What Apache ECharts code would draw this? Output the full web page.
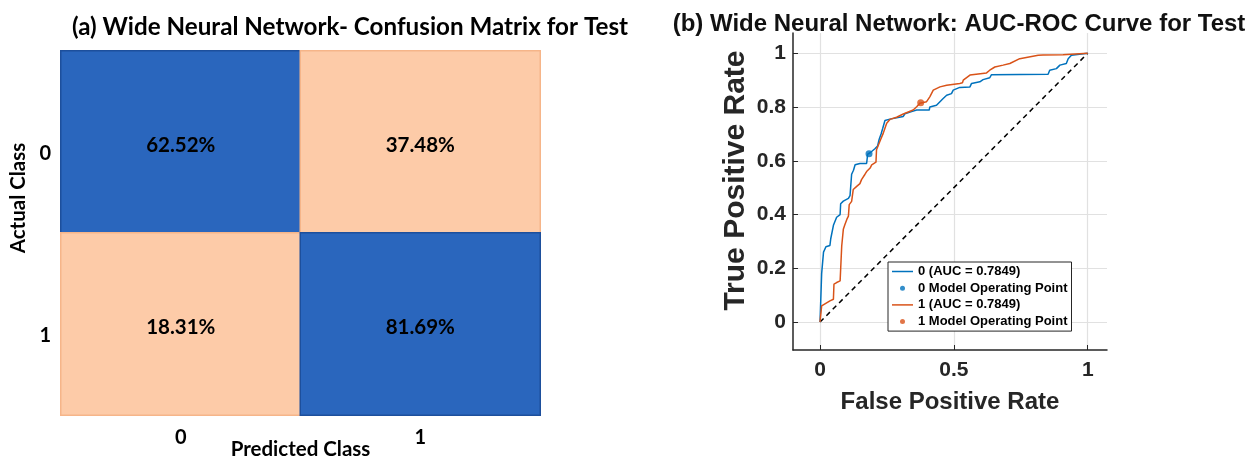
<!DOCTYPE html>
<html><head><meta charset="utf-8">
<script src="https://cdn.jsdelivr.net/npm/echarts@6/dist/echarts.min.js"></script>
<style>html,body{margin:0;padding:0;background:#fff}#c{width:1248px;height:459px}</style>
</head><body><div id="c"></div>
<script>
// ---------- Confusion matrix data ----------
const cmPredicted = ['0', '1'];
const cmActual = ['0', '1'];
const cmActual0 = [62.52, 37.48];
const cmActual1 = [18.31, 81.69];

// ---------- ROC data ----------
const rocXTicks = [0, 0.5, 1];
const rocYTicks = [0, 0.2, 0.4, 0.6, 0.8, 1];
const rocClass0 = [[0,0],[0.003,0.005],[0.006,0.18],[0.012,0.18],[0.013,0.26],[0.022,0.28],[0.037,0.285],[0.04,0.31],[0.05,0.36],[0.062,0.39],[0.075,0.40],[0.077,0.44],[0.087,0.45],[0.106,0.46],[0.112,0.47],[0.118,0.55],[0.125,0.565],[0.131,0.585],[0.149,0.59],[0.174,0.59],[0.178,0.625],[0.187,0.63],[0.205,0.645],[0.215,0.655],[0.221,0.68],[0.228,0.70],[0.234,0.72],[0.2425,0.75],[0.261,0.755],[0.311,0.765],[0.317,0.775],[0.342,0.783],[0.361,0.789],[0.408,0.789],[0.41,0.80],[0.435,0.807],[0.448,0.82],[0.46,0.832],[0.473,0.844],[0.491,0.85],[0.4975,0.863],[0.522,0.873],[0.56,0.875],[0.566,0.888],[0.597,0.894],[0.609,0.902],[0.634,0.909],[0.64,0.92],[0.852,0.922],[0.858,0.937],[0.883,0.943],[0.896,0.956],[0.92,0.962],[0.927,0.98],[0.939,0.993],[1,1]];
const rocClass1 = [[0,0],[0.003,0.005],[0.006,0.06],[0.012,0.066],[0.037,0.079],[0.05,0.085],[0.052,0.141],[0.062,0.147],[0.075,0.153],[0.081,0.283],[0.087,0.345],[0.093,0.363],[0.1,0.382],[0.106,0.394],[0.109,0.437],[0.118,0.449],[0.124,0.493],[0.137,0.505],[0.149,0.515],[0.155,0.53],[0.168,0.55],[0.174,0.56],[0.187,0.573],[0.193,0.585],[0.209,0.595],[0.211,0.641],[0.217,0.656],[0.226,0.678],[0.236,0.702],[0.2425,0.721],[0.249,0.74],[0.261,0.754],[0.286,0.762],[0.311,0.774],[0.348,0.789],[0.361,0.801],[0.373,0.814],[0.398,0.82],[0.41,0.838],[0.423,0.863],[0.448,0.875],[0.473,0.881],[0.522,0.888],[0.532,0.89],[0.535,0.9],[0.56,0.919],[0.566,0.925],[0.622,0.927],[0.634,0.937],[0.653,0.949],[0.684,0.956],[0.709,0.962],[0.746,0.98],[0.815,0.993],[0.833,0.994],[0.908,0.995],[1,1]];
const opPoint0 = [0.183, 0.626];
const opPoint1 = [0.376, 0.816];
const chanceLine = [[0, 0], [1, 1]];
const rocNames = ['0 (AUC = 0.7849)', '0 Model Operating Point', '1 (AUC = 0.7849)', '1 Model Operating Point'];

// ---------- build ----------
const BLUE = '#2a66bd', BLUE_B = '#1d4f9c', ORANGE = '#fdcba8', ORANGE_B = '#f6b589';
const cmRows = [cmActual0, cmActual1];
const heatData = [];
cmRows.forEach((row, yi) => row.forEach((v, xi) => {
  const hi = v > 50;
  heatData.push({ value: [xi, yi, v], itemStyle: { color: hi ? BLUE : ORANGE, borderColor: hi ? BLUE_B : ORANGE_B, borderWidth: 1.5 } });
}));

const CM_FONT = 'Lato, "Open Sans", sans-serif';
const ROC_FONT = '"Liberation Sans", Arial, sans-serif';
const AX = '#262626';
const LINE_ICON = 'path://M0,0H21V1.5H0Z';

const chart = echarts.init(document.getElementById('c'), null, { renderer: 'canvas' });
chart.setOption({
  animation: false,
  backgroundColor: '#fff',
  title: [
    { text: '(a) Wide Neural Network- Confusion Matrix for Test', left: 345, top: 10, textAlign: 'center',
      textStyle: { fontFamily: CM_FONT, fontWeight: 'bold', fontSize: 24.2, color: '#000' } },
    { text: '(b) Wide Neural Network: AUC-ROC Curve for Test', left: 954, top: 7, textAlign: 'center',
      textStyle: { fontFamily: ROC_FONT, fontWeight: 'bold', fontSize: 24, color: '#111' } }
  ],
  grid: [
    { left: 61, top: 51, width: 479, height: 364, outerBoundsMode: 'none' },
    { left: 793, top: 33, width: 314, height: 317, outerBoundsMode: 'none' }
  ],
  xAxis: [
    { gridIndex: 0, type: 'category', data: cmPredicted, name: 'Predicted Class', nameLocation: 'middle', nameGap: 24, nameMoveOverlap: false,
      nameTextStyle: { fontFamily: CM_FONT, fontWeight: 'bold', fontSize: 20.5, color: '#000' },
      axisLine: { show: false }, axisTick: { show: false }, splitLine: { show: false },
      axisLabel: { margin: 13, fontFamily: CM_FONT, fontWeight: 'bold', fontSize: 20, color: '#000' } },
    { gridIndex: 1, type: 'value', min: -0.101, max: 1.072, name: 'False Positive Rate', nameLocation: 'middle', nameGap: 40, nameMoveOverlap: false,
      nameTextStyle: { fontFamily: ROC_FONT, fontWeight: 'bold', fontSize: 24, color: AX },
      axisLine: { show: true, onZero: false, lineStyle: { color: AX, width: 1.5 } },
      axisTick: { show: true, inside: true, length: 5, customValues: rocXTicks, lineStyle: { color: AX } },
      axisLabel: { margin: 10, customValues: rocXTicks, fontFamily: ROC_FONT, fontWeight: 'bold', fontSize: 21, color: AX },
      splitLine: { show: true, lineStyle: { color: '#e1e1e1', width: 1.2 } } }
  ],
  yAxis: [
    { gridIndex: 0, type: 'category', data: cmActual, inverse: true, name: 'Actual Class', nameLocation: 'middle', nameGap: 32, nameRotate: 90, nameMoveOverlap: false,
      nameTextStyle: { fontFamily: CM_FONT, fontWeight: 'bold', fontSize: 20.5, color: '#000', padding: [0, 0, 0, 70] },
      axisLine: { show: false }, axisTick: { show: false }, splitLine: { show: false },
      axisLabel: { margin: 10, verticalAlign: 'top', lineHeight: 24, fontFamily: CM_FONT, fontWeight: 'bold', fontSize: 20, color: '#000' } },
    { gridIndex: 1, type: 'value', min: -0.104, max: 1.0755, name: 'True Positive Rate', nameLocation: 'middle', nameGap: 42, nameRotate: 90, nameMoveOverlap: false,
      nameTextStyle: { fontFamily: ROC_FONT, fontWeight: 'bold', fontSize: 30, color: AX, padding: [0, 0, 0, 22] },
      axisLine: { show: true, onZero: false, lineStyle: { color: AX, width: 1.5 } },
      axisTick: { show: true, inside: true, length: 5, customValues: rocYTicks, lineStyle: { color: AX } },
      axisLabel: { margin: 7, customValues: rocYTicks, fontFamily: ROC_FONT, fontWeight: 'bold', fontSize: 21, color: AX },
      splitLine: { show: true, lineStyle: { color: '#e1e1e1', width: 1.2 } } }
  ],
  legend: {
    data: rocNames.map((n, i) => ({ name: n, icon: i % 2 ? 'circle' : LINE_ICON })),
    orient: 'vertical', left: 888, top: 262,
    padding: [3, 4, 3, 4], itemGap: 3.7, itemWidth: 21, itemHeight: 5,
    backgroundColor: '#fff', borderColor: AX, borderWidth: 1, borderRadius: 0,
    textStyle: { fontFamily: ROC_FONT, fontWeight: 'bold', fontSize: 13, lineHeight: 13, color: '#000' }
  },
  series: [
    { type: 'heatmap', xAxisIndex: 0, yAxisIndex: 0, data: heatData,
      label: { show: true, offset: [0, 3], formatter: p => p.value[2].toFixed(2) + '%', fontFamily: CM_FONT, fontWeight: 'bold', fontSize: 20.5, color: '#000' },
      emphasis: { disabled: true } },
    { type: 'line', name: 'chance', xAxisIndex: 1, yAxisIndex: 1, data: chanceLine, symbol: 'none', silent: true,
      lineStyle: { color: '#000', width: 1.5, type: [5, 4] }, z: 2 },
    { type: 'line', name: rocNames[0], xAxisIndex: 1, yAxisIndex: 1, data: rocClass0, symbol: 'none',
      lineStyle: { color: '#0072bd', width: 1.5 }, itemStyle: { color: '#0072bd' }, z: 3 },
    { type: 'scatter', name: rocNames[1], xAxisIndex: 1, yAxisIndex: 1, data: [opPoint0], symbol: 'circle', symbolSize: 7,
      itemStyle: { color: '#0072bd' }, z: 5 },
    { type: 'line', name: rocNames[2], xAxisIndex: 1, yAxisIndex: 1, data: rocClass1, symbol: 'none',
      lineStyle: { color: '#d95319', width: 1.5 }, itemStyle: { color: '#d95319' }, z: 4 },
    { type: 'scatter', name: rocNames[3], xAxisIndex: 1, yAxisIndex: 1, data: [opPoint1], symbol: 'circle', symbolSize: 7,
      itemStyle: { color: '#d95319' }, z: 5 }
  ]
});
</script></body></html>
